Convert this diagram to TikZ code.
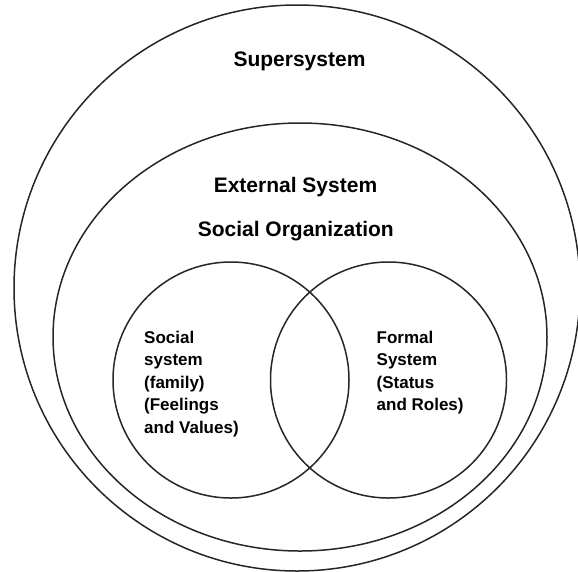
\documentclass[tikz,border=0pt]{standalone}
\usepackage{fontspec}
\setmainfont{Liberation Sans}
\usetikzlibrary{positioning}

\begin{document}
\begin{tikzpicture}[x=1pt,y=-1pt,
    ring/.style={draw=black!85,line width=1.5pt},
    title/.style={font=\fontsize{21}{25}\selectfont\bfseries,inner sep=0pt,anchor=base},
    inset/.style={font=\fontsize{17}{22.5}\selectfont\bfseries,inner sep=0pt,align=left,anchor=base west}]
    \useasboundingbox (0,0) rectangle (578,571);

    \coordinate (Sup) at (297,288);
    \coordinate (Ext) at (300,337);
    \coordinate (Fam) at (231,380);
    \coordinate (For) at (388.5,380);

    \draw[ring] (Sup) circle[radius=283pt];
    \draw[ring] (Ext) ellipse[x radius=247pt,y radius=214pt];
    \foreach \C in {Fam,For}
      \draw[ring] (\C) circle[radius=118pt];

    \node[title] (supersystem) at (299.5,66.5) {Supersystem};
    \node[title] (external) at (295.5,192.7) {External System};
    \node[title] (socorg) at (295.8,236) {Social Organization};

    \node[inset] (family) at (144,433) {Social\\system\\(family)\\(Feelings\\and Values)};
    \node[inset] (formal) at (376.5,410.5) {Formal\\System\\(Status\\and Roles)};

  \end{tikzpicture}
\end{document}
